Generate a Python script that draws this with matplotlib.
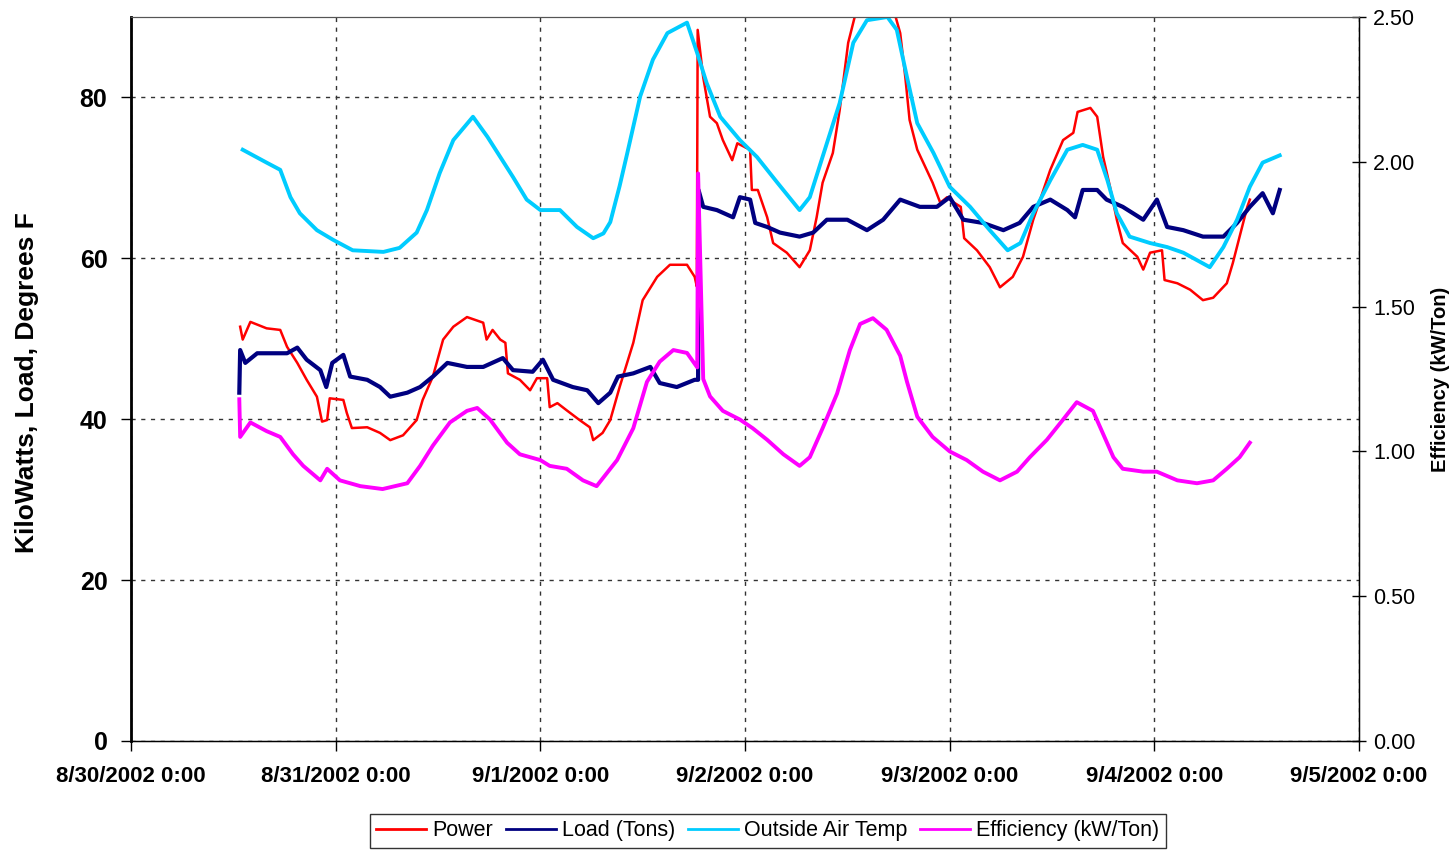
import matplotlib
matplotlib.use("Agg")
import matplotlib.pyplot as plt
import matplotlib.ticker as mticker
import matplotlib.dates as mdates
import pandas as pd

plt.rcParams['font.family'] = ['Liberation Sans', 'DejaVu Sans']

# hours since 8/30/2002 0:00 and values
power_h = [12.8, 13.1, 14.0, 15.9, 17.5, 18.3, 19.5, 20.6, 21.8, 22.4, 23.0, 23.3, 24.9, 25.3, 25.9,
           27.7, 29.2, 30.4, 31.9, 33.5, 34.2, 35.4, 36.6, 37.8, 39.4, 41.3, 41.7, 42.4, 43.3, 43.9,
           44.2, 45.6, 46.8, 47.6, 48.8, 49.1, 50.0, 51.1, 52.6, 53.8, 54.2, 55.3, 56.2, 57.3, 58.9,
           60.0, 61.7, 63.2, 65.2, 66.1, 66.35, 66.45, 67.1, 67.9, 68.7, 69.4, 70.5, 71.1, 72.6, 72.8,
           73.5, 74.6, 75.3, 76.9, 78.4, 79.6, 80.4, 81.1, 82.3, 83.1, 84.1, 85.1, 87.2, 89.4, 90.2,
           90.8, 91.3, 92.2, 93.3, 94.0, 94.9, 95.7, 96.4, 97.3, 97.7, 99.2, 100.7, 101.9, 103.4, 104.6,
           105.8, 107.8, 109.3, 110.5, 111.0, 112.5, 113.3, 114.0, 114.8, 115.6, 116.3, 118.0, 118.7,
           119.5, 120.9, 121.2, 122.7, 124.2, 125.7, 126.9, 128.5, 129.2, 130.0, 130.9, 131.2]
power_v = [51.5, 49.9, 52.1, 51.3, 51.1, 49.0, 47.0, 44.9, 42.8, 39.7, 39.9, 42.6, 42.4, 40.8, 38.9,
           39.0, 38.3, 37.4, 38.0, 39.9, 42.4, 45.3, 49.9, 51.5, 52.7, 52.0, 49.9, 51.1, 49.9, 49.5,
           45.7, 44.9, 43.6, 45.1, 45.1, 41.5, 42.0, 41.1, 39.9, 39.0, 37.4, 38.3, 39.9, 44.0, 49.5,
           54.8, 57.7, 59.2, 59.2, 57.7, 56.5, 88.4, 82.5, 77.6, 76.8, 74.7, 72.2, 74.3, 73.5, 68.5,
           68.5, 65.1, 61.9, 60.7, 58.9, 61.0, 65.1, 69.4, 73.1, 78.4, 86.8, 91.0, 92.0, 91.0, 88.0,
           82.5, 77.2, 73.5, 71.0, 69.4, 66.9, 67.6, 67.0, 66.4, 62.5, 61.0, 58.9, 56.4, 57.7, 60.2,
           64.8, 71.0, 74.7, 75.6, 78.2, 78.7, 77.6, 72.6, 68.9, 64.8, 61.9, 60.2, 58.6,
           60.7, 61.0, 57.3, 56.9, 56.1, 54.8, 55.1, 56.9, 59.4, 62.7, 66.4, 67.3]

load_h = [12.7, 12.8, 13.4, 14.8, 16.7, 18.3, 19.5, 20.6, 22.2, 22.9, 23.6, 24.9, 25.7, 27.7, 29.2,
          30.4, 32.4, 33.9, 35.4, 37.1, 39.4, 41.3, 43.6, 44.8, 47.1, 48.3, 49.5, 51.8, 53.5, 54.8,
          56.2, 57.1, 58.9, 60.9, 62.0, 64.0, 66.1, 66.5, 66.55, 67.1, 68.7, 70.6, 71.4, 72.6, 73.2,
          74.6, 76.1, 78.4, 80.0, 81.6, 84.0, 86.3, 88.2, 90.2, 92.5, 94.5, 96.0, 97.6, 99.9, 102.3,
          104.2, 105.8, 107.8, 109.8, 110.7, 111.6, 113.3, 114.4, 116.3, 118.7, 120.3, 121.5, 123.4,
          125.7, 128.1, 129.7, 131.2, 132.7, 133.9, 134.7]
load_v = [43.3, 48.6, 47.0, 48.2, 48.2, 48.2, 48.9, 47.4, 46.1, 44.0, 47.0, 48.0, 45.3, 44.9, 44.0,
          42.8, 43.3, 44.0, 45.3, 47.0, 46.5, 46.5, 47.6, 46.1, 45.9, 47.4, 44.9, 44.0, 43.6, 42.0,
          43.3, 45.3, 45.7, 46.5, 44.5, 44.0, 44.9, 44.9, 68.5, 66.4, 66.0, 65.1, 67.6, 67.3, 64.4,
          63.9, 63.2, 62.7, 63.2, 64.8, 64.8, 63.5, 64.8, 67.3, 66.4, 66.4, 67.6, 64.8, 64.4, 63.5,
          64.4, 66.4, 67.3, 66.0, 65.1, 68.5, 68.5, 67.3, 66.4, 64.8, 67.3, 63.9, 63.5,
          62.7, 62.7, 64.4, 66.4, 68.1, 65.6, 68.5]

oat_h = [13.1, 15.9, 17.5, 18.7, 19.8, 21.8, 23.7, 26.0, 29.6, 31.5, 33.5, 34.7, 36.2, 37.8, 40.1,
         41.8, 43.3, 44.8, 46.4, 48.0, 50.3, 52.3, 54.2, 55.4, 56.2, 57.3, 58.2, 59.7, 61.2, 62.9,
         65.2, 66.4, 67.5, 69.1, 71.4, 73.4, 75.8, 78.4, 79.6, 81.6, 83.1, 84.7, 86.3, 88.7, 89.8,
         91.0, 92.2, 94.1, 96.0, 98.4, 100.7, 102.8, 104.3, 105.8, 107.8, 109.8, 111.6, 113.3, 114.5,
         115.6, 117.1, 119.5, 121.5, 123.4, 126.5, 128.1, 129.7, 131.2, 132.7, 134.7]
oat_v = [73.5, 71.9, 71.0, 67.6, 65.6, 63.5, 62.3, 61.0, 60.8, 61.3, 63.2, 66.0, 70.6, 74.7, 77.6,
         75.1, 72.6, 70.1, 67.3, 66.0, 66.0, 63.9, 62.5, 63.1, 64.5, 69.0, 73.1, 80.1, 84.7, 88.0,
         89.3, 85.5, 81.8, 77.6, 74.7, 72.6, 69.4, 66.0, 67.6, 74.3, 79.3, 86.8, 89.6, 90.0, 88.4,
         82.5, 76.8, 73.1, 68.9, 66.4, 63.5, 61.0, 61.9, 65.6, 69.7, 73.5, 74.1, 73.5, 69.7,
         65.6, 62.7, 61.9, 61.4, 60.7, 58.9, 61.4, 64.8, 68.9, 71.9, 72.8]

eff_h = [12.7, 12.8, 14.0, 15.9, 17.5, 19.0, 20.2, 22.2, 23.0, 24.5, 26.9, 29.5, 32.4, 33.9, 35.4,
         37.4, 39.4, 40.6, 42.1, 44.1, 45.6, 48.0, 49.1, 51.1, 53.0, 54.6, 57.0, 58.9, 60.5, 62.0,
         63.6, 65.2, 66.4, 66.5, 67.1, 67.9, 69.4, 71.4, 72.9, 74.6, 76.5, 78.4, 79.6, 81.1, 82.8,
         84.3, 85.5, 87.0, 88.6, 90.2, 91.0, 92.2, 94.0, 96.0, 98.0, 99.9, 101.9, 103.9, 105.4,
         107.4, 109.3, 110.9, 112.8, 114.0, 115.2, 116.3, 118.7, 120.3, 122.7, 125.0, 126.9, 128.5,
         130.0, 131.2]
eff_v = [1.18, 1.05, 1.10, 1.07, 1.05, 0.99, 0.95, 0.90, 0.94, 0.90, 0.88, 0.87, 0.89, 0.95, 1.02,
         1.10, 1.14, 1.15, 1.11, 1.03, 0.99, 0.97, 0.95, 0.94, 0.90, 0.88, 0.97, 1.08, 1.24, 1.31,
         1.35, 1.34, 1.29, 1.96, 1.25, 1.19, 1.14, 1.11, 1.08, 1.04, 0.99, 0.95, 0.98, 1.08, 1.20,
         1.35, 1.44, 1.46, 1.42, 1.33, 1.24, 1.12, 1.05, 1.00, 0.97, 0.93, 0.90, 0.93, 0.98,
         1.04, 1.11, 1.17, 1.14, 1.06, 0.98, 0.94, 0.93, 0.93, 0.90, 0.89, 0.90, 0.94,
         0.98, 1.03]

start = pd.Timestamp('2002-08-30')
def to_time(hours):
    return start + pd.to_timedelta(hours, unit='h')

fig = plt.figure(figsize=(14.56, 8.5), dpi=100)
ax = fig.add_axes([131/1456, 1 - 741/850, (1359 - 131)/1456, (741 - 17)/850])
ax2 = ax.twinx()

l1, = ax.plot(to_time(power_h), power_v, color='#FF0000', lw=1.8, label='Power')
l2, = ax.plot(to_time(load_h), load_v, color='#000080', lw=3.0, label='Load (Tons)')
l3, = ax.plot(to_time(oat_h), oat_v, color='#00CCFF', lw=2.8, label='Outside Air Temp')
l4, = ax2.plot(to_time(eff_h), eff_v, color='#FF00FF', lw=2.8, label='Efficiency (kW/Ton)')

ax.set_xlim(pd.Timestamp('2002-08-30'), pd.Timestamp('2002-09-05'))
ax.set_ylim(0, 90)
ax2.set_ylim(0, 2.5)

ax.xaxis.set_major_locator(mdates.DayLocator())
ax.xaxis.set_major_formatter(mticker.FuncFormatter(
    lambda x, pos: '{d.month}/{d.day}/{d.year} 0:00'.format(d=mdates.num2date(x))))
ax.yaxis.set_major_locator(mticker.FixedLocator([0, 20, 40, 60, 80]))
ax2.yaxis.set_major_locator(mticker.MultipleLocator(0.5))
ax2.yaxis.set_major_formatter(mticker.FormatStrFormatter('%.2f'))

ax.grid(True, color='#333333', lw=1, linestyle=(0, (3, 4)))

for lab in ax.get_yticklabels():
    lab.set_fontweight('bold')
for lab in ax.get_xticklabels():
    lab.set_fontweight('bold')
ax.tick_params(axis='y', labelsize=18, direction='out', length=7, width=1, pad=10)
ax.tick_params(axis='x', labelsize=16, direction='out', length=7, width=1, pad=11)
ax2.tick_params(axis='y', labelsize=15.5, direction='inout', length=10, width=1, pad=5)

ax.spines['left'].set_linewidth(2)
ax.spines['bottom'].set_linewidth(1)
ax.spines['top'].set_color('#555555')
ax2.spines['top'].set_color('#555555')
ax2.spines['right'].set_linewidth(1)

fig.text(27/1456, 1 - 383/850, 'KiloWatts, Load, Degrees F', rotation=90,
         fontsize=19, fontweight='bold', ha='center', va='center')
fig.text(1440/1456, 1 - 379/850, 'Efficiency (kW/Ton)', rotation=90,
         fontsize=14.5, fontweight='bold', ha='center', va='center')

leg = fig.legend([l1, l2, l3, l4], [l.get_label() for l in (l1, l2, l3, l4)],
                 loc='lower center', bbox_to_anchor=(768/1456, 0.0), ncol=4, fontsize=15.5,
                 frameon=True, fancybox=False, edgecolor='black', handlelength=2.3,
                 handletextpad=0.3, columnspacing=0.6, borderpad=0.3, borderaxespad=0.1)
leg.get_frame().set_linewidth(1)
for h in leg.get_lines():
    h.set_linewidth(2)

fig.savefig('out.png', dpi=100)
